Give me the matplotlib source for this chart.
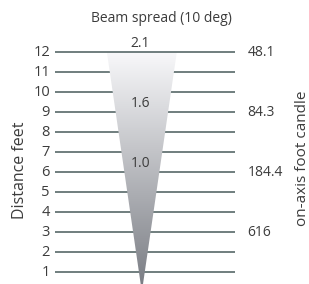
import numpy as np
import matplotlib.pyplot as plt
from matplotlib.patches import Polygon
from matplotlib.colors import LinearSegmentedColormap

plt.rcParams['font.family'] = ['Open Sans', 'DejaVu Sans']

distance = list(range(1, 13))
beam_deg = 10
diam_at = [12, 9, 6]
diam_lbl = ['2.1', '1.6', '1.0']
fc_at = [12, 9, 6, 3]
fc_lbl = ['48.1', '84.3', '184.4', '616']

txt = '#3c3c3c'
line_c = '#647474'

fig = plt.figure(figsize=(3.09, 2.84), dpi=100)
ax = fig.add_axes([0, 0, 1, 1])
ax.set_xlim(-4.26, 5.02)
ax.set_ylim(0.4, 14.6)
ax.axis('off')

# horizontal distance lines
for d in distance:
    ax.plot([-2.61, 2.79], [d, d], color=line_c, lw=1.3,
            solid_capstyle='butt', zorder=3 if d == 12 else 1)
    ax.text(-2.76, d, str(d), ha='right', va='center', fontsize=10.5, color=txt)

# beam cone with vertical gradient
half = np.tan(np.radians(beam_deg / 2))
top = max(distance)
tri = Polygon([[0, 0], [-top * half, top], [top * half, top]], closed=True,
              facecolor='none', edgecolor='none')
ax.add_patch(tri)
cmap = LinearSegmentedColormap.from_list('beam', ['#777a81', '#f8f8fa'])
grad = np.linspace(0, 1, 256).reshape(-1, 1)
im = ax.imshow(grad, cmap=cmap, extent=[-top * half, top * half, 0, top],
               origin='lower', aspect='auto', zorder=2, interpolation='bilinear')
im.set_clip_path(tri)

for d, s in zip(diam_at, diam_lbl):
    ax.text(-0.05, d + 0.42, s, ha='center', va='center', fontsize=10, color=txt, zorder=4)

for d, s in zip(fc_at, fc_lbl):
    ax.text(3.18, d, s, ha='left', va='center', fontsize=10, color=txt)

ax.text(0.6, 13.7, 'Beam spread (10 deg)', ha='center', va='center', fontsize=10, color=txt)
ax.text(-3.66, 6.1, 'Distance feet', rotation=90, ha='center', va='center', fontsize=11.5, color=txt)
ax.text(4.83, 6.7, 'on-axis foot candle', rotation=90, ha='center', va='center', fontsize=11, color=txt)

fig.savefig('out.png', dpi=100)
